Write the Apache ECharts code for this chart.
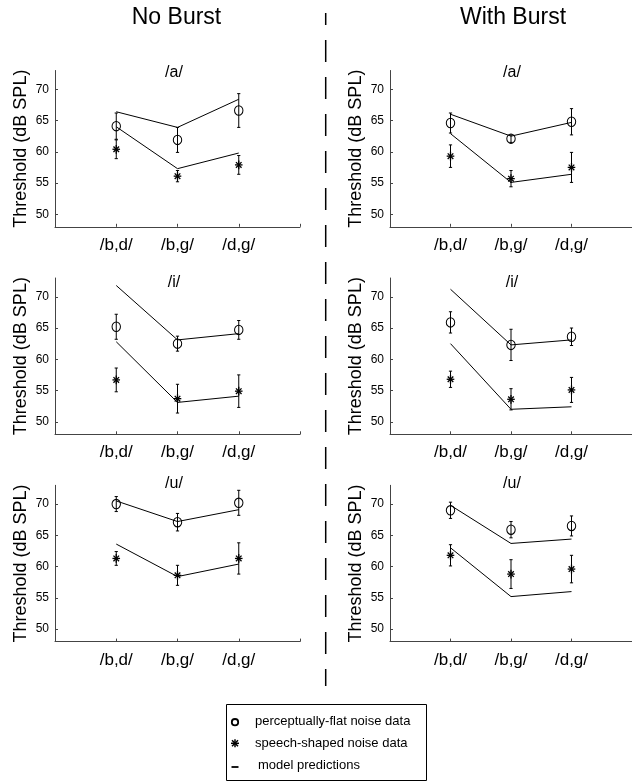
<!DOCTYPE html>
<html><head><meta charset="utf-8">
<script src="https://cdn.jsdelivr.net/npm/echarts@6/dist/echarts.min.js"></script>
<style>html,body{margin:0;padding:0;background:#fff}#c{width:632px;height:784px}</style>
</head><body><div id="c"></div>
<script>
// ---------- data ----------
const categories = ['/b,d/', '/b,g/', '/d,g/'];
const columnTitles = ['No Burst', 'With Burst'];
const vowelTitles = ['/a/', '/i/', '/u/'];
const yTickValues = [50, 55, 60, 65, 70];
const yAxisName = 'Threshold (dB SPL)';
const legendLabels = ['perceptually-flat noise data', 'speech-shaped noise data', 'model predictions'];

// perceptually-flat noise data (circles): means and error half-widths
const flatMeanANo   = [64.1, 61.9, 66.6]; const flatErrANo   = [2.1, 2.0, 2.7];
const flatMeanAWith = [64.6, 62.1, 64.8]; const flatErrAWith = [1.6, 0.6, 2.1];
const flatMeanINo   = [65.2, 62.5, 64.7]; const flatErrINo   = [2.0, 1.2, 1.5];
const flatMeanIWith = [65.9, 62.3, 63.6]; const flatErrIWith = [1.7, 2.5, 1.4];
const flatMeanUNo   = [70.0, 67.1, 70.2]; const flatErrUNo   = [1.2, 1.4, 2.0];
const flatMeanUWith = [69.0, 65.9, 66.5]; const flatErrUWith = [1.3, 1.3, 1.6];

// speech-shaped noise data (asterisks)
const speechMeanANo   = [60.4, 56.1, 57.9]; const speechErrANo   = [1.5, 0.9, 1.5];
const speechMeanAWith = [59.3, 55.7, 57.5]; const speechErrAWith = [1.8, 1.3, 2.4];
const speechMeanINo   = [56.7, 53.7, 54.9]; const speechErrINo   = [1.9, 2.3, 2.6];
const speechMeanIWith = [56.8, 53.6, 55.1]; const speechErrIWith = [1.3, 1.7, 2.0];
const speechMeanUNo   = [61.3, 58.6, 61.3]; const speechErrUNo   = [1.1, 1.6, 2.5];
const speechMeanUWith = [61.8, 58.8, 59.6]; const speechErrUWith = [1.7, 2.3, 2.2];

// model predictions
const modelFlatANo   = [66.4, 63.9, 68.4]; const modelSpeechANo   = [64.0, 57.3, 59.8];
const modelFlatAWith = [66.0, 62.5, 64.7]; const modelSpeechAWith = [62.9, 55.1, 56.4];
const modelFlatINo   = [71.8, 63.1, 64.1]; const modelSpeechINo   = [62.8, 53.1, 54.1];
const modelFlatIWith = [71.2, 62.3, 63.1]; const modelSpeechIWith = [62.5, 52.0, 52.4];
const modelFlatUNo   = [70.5, 67.2, 69.1]; const modelSpeechUNo   = [63.6, 58.4, 60.4];
const modelFlatUWith = [69.8, 63.7, 64.4]; const modelSpeechUWith = [63.0, 55.2, 56.0];

// ---------- panels ----------
const panels = [
  {row:0,col:0,fm:flatMeanANo,fe:flatErrANo,sm:speechMeanANo,se:speechErrANo,mf:modelFlatANo,ms:modelSpeechANo},
  {row:0,col:1,fm:flatMeanAWith,fe:flatErrAWith,sm:speechMeanAWith,se:speechErrAWith,mf:modelFlatAWith,ms:modelSpeechAWith},
  {row:1,col:0,fm:flatMeanINo,fe:flatErrINo,sm:speechMeanINo,se:speechErrINo,mf:modelFlatINo,ms:modelSpeechINo},
  {row:1,col:1,fm:flatMeanIWith,fe:flatErrIWith,sm:speechMeanIWith,se:speechErrIWith,mf:modelFlatIWith,ms:modelSpeechIWith},
  {row:2,col:0,fm:flatMeanUNo,fe:flatErrUNo,sm:speechMeanUNo,se:speechErrUNo,mf:modelFlatUNo,ms:modelSpeechUNo},
  {row:2,col:1,fm:flatMeanUWith,fe:flatErrUWith,sm:speechMeanUWith,se:speechErrUWith,mf:modelFlatUWith,ms:modelSpeechUWith}
];

const FONT = 'Liberation Sans, Arial, Helvetica, sans-serif';
const gridLeft = [55, 390];
const gridWidth = 245;
const gridTop = [70.5, 278, 485.3];
const gridHeight = 156.3;
const titleX = [174, 512];
const titleY = [73, 283, 484];

const grids = [], xAxes = [], yAxes = [], series = [];

function makeRender(kind) {
  return function (params, api) {
    const x = api.value(0), m = api.value(1), e = api.value(2);
    const p = api.coord([x, m]);
    const t = api.coord([x, m + e]);
    const b = api.coord([x, m - e]);
    const st = {stroke: '#000', lineWidth: 1, fill: null};
    const ch = [
      {type:'line', shape:{x1:p[0], y1:t[1], x2:p[0], y2:b[1]}, style:st},
      {type:'line', shape:{x1:p[0]-1.6, y1:t[1], x2:p[0]+1.6, y2:t[1]}, style:st},
      {type:'line', shape:{x1:p[0]-1.6, y1:b[1], x2:p[0]+1.6, y2:b[1]}, style:st}
    ];
    if (kind === 'flat') {
      ch.push({type:'circle', x:p[0], y:p[1], scaleY:1.12, shape:{cx:0, cy:0, r:4.2},
               style:{stroke:'#000', lineWidth:1, fill:null}});
    } else {
      const s = {stroke:'#000', lineWidth:1.3, fill:null};
      const a = 3.8, d = 2.8;
      ch.push({type:'line', shape:{x1:p[0], y1:p[1]-a-0.6, x2:p[0], y2:p[1]+a+0.6}, style:s});
      ch.push({type:'line', shape:{x1:p[0]-a, y1:p[1], x2:p[0]+a, y2:p[1]}, style:s});
      ch.push({type:'line', shape:{x1:p[0]-d, y1:p[1]-d, x2:p[0]+d, y2:p[1]+d}, style:s});
      ch.push({type:'line', shape:{x1:p[0]-d, y1:p[1]+d, x2:p[0]+d, y2:p[1]-d}, style:s});
    }
    return {type:'group', children: ch};
  };
}

panels.forEach((pn, i) => {
  grids.push({left: gridLeft[pn.col], top: gridTop[pn.row], width: gridWidth, height: gridHeight, containLabel: false});
  xAxes.push({
    type: 'value', gridIndex: i, min: 0, max: 4, interval: 1,
    axisLine: {lineStyle: {color: '#444', width: 1}},
    axisTick: {inside: true, length: 3, customValues: [1, 2, 3, 4], lineStyle: {color: '#444'}},
    axisLabel: {customValues: [1, 2, 3], formatter: v => categories[Math.round(v) - 1] || '',
                fontSize: 17, fontFamily: FONT, color: '#000', margin: 10},
    splitLine: {show: false}
  });
  yAxes.push({
    type: 'value', gridIndex: i, min: 48, max: 73,
    name: yAxisName, nameLocation: 'middle', nameGap: 25,
    nameTextStyle: {fontSize: 18, fontFamily: FONT, color: '#000'},
    axisLine: {show: true, lineStyle: {color: '#444', width: 1}},
    axisTick: {show: true, inside: true, length: 3, customValues: yTickValues, lineStyle: {color: '#444'}},
    axisLabel: {customValues: yTickValues, fontSize: 12, fontFamily: FONT, color: '#000', margin: 6},
    splitLine: {show: false}
  });
  const mk = arr => arr.map((v, k) => [k + 1, v]);
  const mkErr = (m, e) => m.map((v, k) => [k + 1, v, e[k]]);
  series.push({type:'line', xAxisIndex:i, yAxisIndex:i, data: mk(pn.mf), symbol:'none',
               lineStyle:{color:'#000', width:1}, silent:true});
  series.push({type:'line', xAxisIndex:i, yAxisIndex:i, data: mk(pn.ms), symbol:'none',
               lineStyle:{color:'#000', width:1}, silent:true});
  series.push({type:'custom', xAxisIndex:i, yAxisIndex:i, data: mkErr(pn.fm, pn.fe),
               renderItem: makeRender('flat'), encode:{x:0, y:1}, silent:true});
  series.push({type:'custom', xAxisIndex:i, yAxisIndex:i, data: mkErr(pn.sm, pn.se),
               renderItem: makeRender('speech'), encode:{x:0, y:1}, silent:true});
});

// ---------- graphic: headers, vowel titles, divider, legend ----------
const graphic = [];
columnTitles.forEach((t, c) => {
  graphic.push({type:'text', x: c === 0 ? 176.5 : 513, y: 18,
    style:{text:t, fontSize:23, fontFamily:FONT, fill:'#000', align:'center', verticalAlign:'middle'}});
});
panels.forEach(pn => {
  graphic.push({type:'text', x: titleX[pn.col], y: titleY[pn.row],
    style:{text: vowelTitles[pn.row], fontSize:16, fontFamily:FONT, fill:'#000', align:'center', verticalAlign:'middle'}});
});
graphic.push({type:'line', shape:{x1:325.7, y1:13, x2:325.7, y2:686},
  style:{stroke:'#000', lineWidth:1.5, lineDash:[22, 15], lineDashOffset:10}});
// legend box
graphic.push({type:'rect', shape:{x:226.5, y:704.5, width:200, height:76},
  style:{stroke:'#000', lineWidth:1, fill:'#fff'}});
const legY = [721.7, 743.3, 765];
graphic.push({type:'circle', shape:{cx:235, cy:legY[0]+0.5, r:3.2}, style:{stroke:'#000', lineWidth:1.8, fill:null}});
[[0,-4,0,4],[-4,0,4,0],[-3,-3,3,3],[-3,3,3,-3]].forEach(s => {
  graphic.push({type:'line', shape:{x1:235+s[0], y1:legY[1]+s[1], x2:235+s[2], y2:legY[1]+s[3]},
    style:{stroke:'#000', lineWidth:1.5}});
});
graphic.push({type:'line', shape:{x1:231.5, y1:legY[2]+2, x2:238.5, y2:legY[2]+2}, style:{stroke:'#000', lineWidth:1.8}});
legendLabels.forEach((t, k) => {
  graphic.push({type:'text', x: k === 2 ? 258 : 255, y: legY[k],
    style:{text:t, fontSize:13, fontFamily:FONT, fill:'#000', align:'left', verticalAlign:'middle'}});
});

const chart = echarts.init(document.getElementById('c'), null, {renderer:'canvas'});
chart.setOption({
  animation: false,
  backgroundColor: '#fff',
  grid: grids, xAxis: xAxes, yAxis: yAxes, series: series, graphic: graphic
});
</script></body></html>
